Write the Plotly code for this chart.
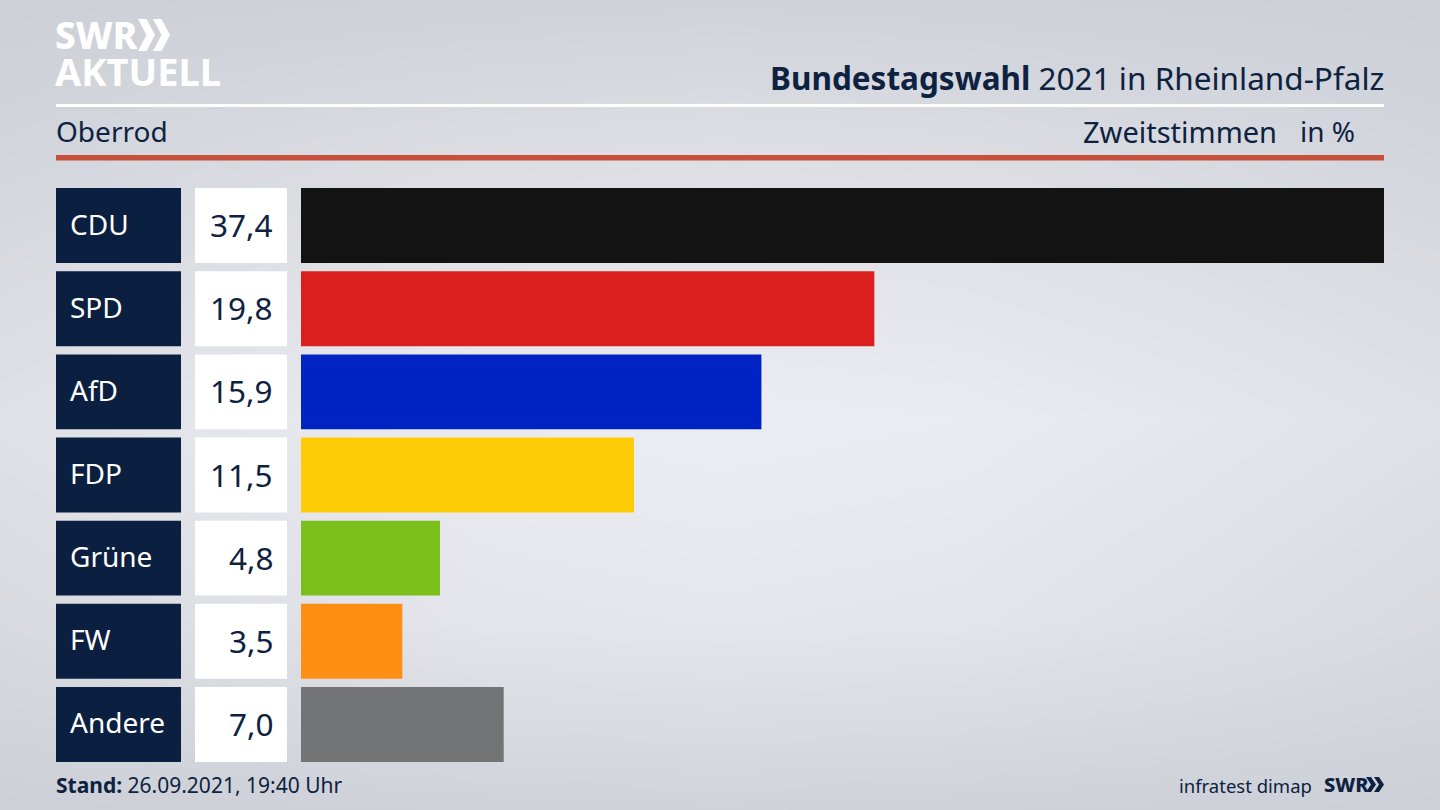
import plotly.graph_objects as go

parties = ["CDU", "SPD", "AfD", "FDP", "Grüne", "FW", "Andere"]
values = [37.4, 19.8, 15.9, 11.5, 4.8, 3.5, 7.0]
value_labels = ["37,4", "19,8", "15,9", "11,5", "4,8", "3,5", "7,0"]
colors = ["#131313", "#d9201f", "#0024c4", "#ffcd08", "#7abf1a", "#ff8f14", "#737476"]
box_values = [1, 1, 1, 1, 1, 1, 1]

# background shades, top row first
bg_x = [0, 240, 480, 720, 960, 1200, 1440]
bg_y = [0, 170, 420, 620, 810]
bg_z = [
    [0.05, 0.08, 0.12, 0.15, 0.12, 0.08, 0.05],
    [0.25, 0.40, 0.52, 0.58, 0.52, 0.40, 0.25],
    [0.62, 0.80, 0.95, 1.00, 0.95, 0.80, 0.62],
    [0.38, 0.58, 0.75, 0.80, 0.75, 0.58, 0.38],
    [0.05, 0.08, 0.12, 0.15, 0.12, 0.08, 0.05],
]

NAVY = "#0d2240"
FONT = "Noto Sans"


def px(x):
    return x / 1440


def py(y):
    return 1 - y / 810


fig = go.Figure()

# gradient background
fig.add_trace(go.Heatmap(
    x=bg_x, y=bg_y, z=bg_z, zsmooth="best", showscale=False, hoverinfo="skip",
    zmin=0, zmax=1, colorscale=[[0, "#cbced5"], [1, "#ecedf2"]],
    xaxis="x", yaxis="y",
))

# navy label boxes, white value boxes, party bars
fig.add_trace(go.Bar(x=box_values, y=parties, orientation="h", marker_color="#0b2040",
                     xaxis="x2", yaxis="y2", hoverinfo="skip"))
fig.add_trace(go.Bar(x=box_values, y=parties, orientation="h", marker_color="#ffffff",
                     xaxis="x3", yaxis="y2", hoverinfo="skip"))
fig.add_trace(go.Bar(x=values, y=parties, orientation="h", marker_color=colors,
                     xaxis="x4", yaxis="y2"))

fig.update_traces(marker_line_width=0, selector=dict(type="bar"))

hidden = dict(visible=False, fixedrange=True)
fig.update_layout(
    width=1440, height=810,
    margin=dict(l=0, r=0, t=0, b=0),
    showlegend=False,
    paper_bgcolor="#dfe1e6",
    plot_bgcolor="rgba(0,0,0,0)",
    bargap=0.099,
    font=dict(family=FONT, color=NAVY),
    xaxis=dict(domain=[0, 1], range=[0, 1440], **hidden),
    yaxis=dict(domain=[0, 1], range=[810, 0], **hidden),
    xaxis2=dict(domain=[px(56), px(181)], range=[0, 1], anchor="y2", **hidden),
    xaxis3=dict(domain=[px(195), px(287)], range=[0, 1], anchor="y2", **hidden),
    xaxis4=dict(domain=[px(301), px(1384)], range=[0, 37.4], anchor="y2", **hidden),
    yaxis2=dict(domain=[py(766), py(184)], autorange="reversed", anchor="x2",
                categoryorder="array", categoryarray=parties, **hidden),
)

# header rules
fig.add_shape(type="rect", xref="paper", yref="paper", x0=px(56), x1=px(1384),
              y0=py(107), y1=py(104), fillcolor="#ffffff", line_width=0)
fig.add_shape(type="rect", xref="paper", yref="paper", x0=px(56), x1=px(1384),
              y0=py(160.5), y1=py(155), fillcolor="#c94f3d", line_width=0)


def chevrons(x, y, w, h, gap, color):
    for off in (0, gap):
        x0 = x + off
        d = (f"M {px(x0)} {py(y)} L {px(x0 + w * 0.5)} {py(y)} L {px(x0 + w)} {py(y + h / 2)} "
             f"L {px(x0 + w * 0.5)} {py(y + h)} L {px(x0)} {py(y + h)} "
             f"L {px(x0 + w * 0.5)} {py(y + h / 2)} Z")
        fig.add_shape(type="path", path=d, xref="paper", yref="paper",
                      fillcolor=color, line_width=0)


chevrons(138, 19, 17, 32, 15, "#ffffff")
chevrons(1366, 777, 10, 15, 8, NAVY)


def label(text, x, y, size, anchor="left", color=NAVY, weight=None):
    fig.add_annotation(text=text, xref="paper", yref="paper", x=px(x), y=py(y),
                       xanchor=anchor, yanchor="middle", showarrow=False,
                       borderpad=0, borderwidth=0,
                       font=dict(size=size, color=color, family=FONT, weight=weight))


label("SWR", 55, 35, 37, color="#ffffff", weight=800)
label("AKTUELL", 55, 71, 38, color="#ffffff", weight=700)
label("<b>Bundestagswahl</b> 2021 in Rheinland-Pfalz", 1384, 77, 31.5, "right")
label("Oberrod", 56, 131, 28)
label("Zweitstimmen", 1277, 131, 29, "right")
label("in %", 1355, 131, 28, "right")
label("<b>Stand:</b> 26.09.2021, 19:40 Uhr", 56, 785, 21)
label("infratest dimap", 1312, 785, 18.5, "right")
label("SWR", 1324, 784, 20, weight=800)

# party names and values, placed on the shared category axis
for party, val in zip(parties, value_labels):
    fig.add_annotation(text=party, xref="paper", yref="y2", x=px(70), y=party,
                       xanchor="left", showarrow=False, yshift=2,
                       borderpad=0, borderwidth=0,
                       font=dict(size=28, color="#ffffff", family=FONT))
    fig.add_annotation(text=val, xref="paper", yref="y2", x=px(273), y=party,
                       xanchor="right", showarrow=False, yshift=1,
                       borderpad=0, borderwidth=0,
                       font=dict(size=31.5, color=NAVY, family=FONT))

# page has a default body margin, drop it so the figure fills the window
fig.write_html("out.html", config=dict(displayModeBar=False),
               post_script="document.body.style.margin='0';document.body.style.overflow='hidden';")
